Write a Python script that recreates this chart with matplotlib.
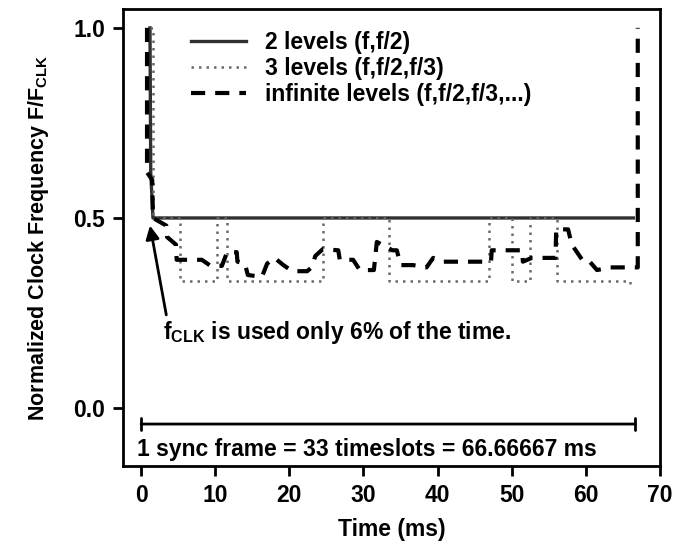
import numpy as np
import matplotlib.pyplot as plt

plt.rcParams['font.family'] = 'Liberation Sans'
plt.rcParams['font.weight'] = 'bold'
plt.rcParams['mathtext.fontset'] = 'custom'
plt.rcParams['mathtext.rm'] = 'Liberation Sans:bold'
plt.rcParams['mathtext.it'] = 'Liberation Sans:bold'
plt.rcParams['mathtext.bf'] = 'Liberation Sans:bold'

#######################################################################
# DATA (time in ms, frequency normalised to F_CLK)
#######################################################################
# 2 levels (f, f/2)
t_two = [1.2, 1.3, 1.6, 66.4]
f_two = [1.0, 0.62, 0.5, 0.5]

# 3 levels (f, f/2, f/3) - change points, held until the next one
t_three = [1.2, 1.6, 5.3, 10.3, 11.6, 24.5, 33.4, 46.9, 50.0, 52.5, 56.1, 66.0]
f_three = [1.0, 0.5, 0.333, 0.5, 0.333, 0.5, 0.333, 0.5, 0.333, 0.5, 0.333, 0.325]

# infinite levels (f, f/2, f/3, ...)
t_inf = [0.8, 0.8, 1.5, 1.6, 3.4, 3.5, 4.7, 4.8, 8.2, 9.3, 10.9, 11.6,
         12.9, 13.0, 14.0, 14.4, 16.3, 17.0, 18.0, 19.2, 20.4, 22.4, 23.0,
         23.5, 24.5, 26.6, 26.8, 28.6, 29.5, 31.4, 31.8, 33.9, 34.5, 35.0,
         36.7, 38.3, 38.5, 39.4, 40.7, 42.8, 44.4, 46.4, 47.2, 47.3, 48.2,
         50.0, 51.4, 51.5, 52.7, 54.8, 55.9, 56.0, 57.6, 58.1, 59.5, 60.3,
         61.5, 63.3, 65.0, 67.0, 67.0]
f_inf = [1.0, 0.62, 0.6, 0.5, 0.48, 0.45, 0.43, 0.39, 0.39, 0.375, 0.374, 0.41,
         0.41, 0.385, 0.38, 0.35, 0.345, 0.38, 0.395, 0.376, 0.36, 0.36, 0.37,
         0.40, 0.418, 0.415, 0.39, 0.39, 0.363, 0.363, 0.437, 0.415, 0.415, 0.376,
         0.376, 0.37, 0.37, 0.395, 0.385, 0.385, 0.385, 0.385, 0.385, 0.415, 0.415,
         0.415, 0.415, 0.385, 0.395, 0.395, 0.395, 0.47, 0.47, 0.43, 0.39, 0.39,
         0.363, 0.37, 0.37, 0.37, 1.0]

labels = ['2 levels (f,f/2)', '3 levels (f,f/2,f/3)', 'infinite levels (f,f/2,f/3,...)']

frame_start = 0.0
frame_end = 66.66667

xticks = [0, 10, 20, 30, 40, 50, 60, 70]
yticks = [0.0, 0.5, 1.0]

FS = 16.5

#######################################################################
# PLOT
#######################################################################
fig = plt.figure(figsize=(6.8, 5.49), dpi=100)
ax = fig.add_axes([0.181, 0.151, 0.7896, 0.832])

ax.plot(t_two, f_two, color='#303030', lw=2.4, label=labels[0])
ax.plot(t_three, f_three, color='#6a6a6a', lw=1.8, ls=(0, (1, 2.0)),
        drawstyle='steps-post', label=labels[1])
ax.plot(t_inf, f_inf, color='black', lw=3.0, ls=(0, (3.4, 2.4)), label=labels[2])

# sync frame bracket
ax.annotate('', xy=(frame_start, -0.042), xytext=(frame_end, -0.042),
            arrowprops=dict(arrowstyle='|-|', lw=2, mutation_scale=4, color='black',
                            shrinkA=0, shrinkB=0))
ax.text(-0.6, -0.108, '1 sync frame = 33 timeslots = 66.66667 ms',
        fontsize=FS, fontweight='bold', va='center', ha='left')

# note on the full clock usage
ax.annotate('', xy=(1.2, 0.48), xytext=(3.4, 0.245),
            arrowprops=dict(arrowstyle='-|>', lw=2, color='black',
                            mutation_scale=20, shrinkA=0, shrinkB=0))
ax.text(2.9, 0.2, r'f$_{\rm CLK}$ is used only 6% of the time.', fontsize=FS,
        fontweight='bold', va='center', ha='left')

ax.set_xlim(-2.43, 70)
ax.set_ylim(-0.1526, 1.0487)
ax.set_xticks(xticks)
ax.set_yticks(yticks)
ax.set_yticklabels(['%.1f' % v for v in yticks])
ax.tick_params(direction='out', length=7, width=2, labelsize=FS, pad=6)
for s in ax.spines.values():
    s.set_linewidth(2)

ax.set_xlabel('Time (ms)', fontsize=FS, fontweight='bold', labelpad=8)
ax.set_ylabel(r'Normalized Clock Frequency F/F$_{\rm CLK}$', fontsize=15.5,
              fontweight='bold', labelpad=16)

ax.legend(loc='upper left', bbox_to_anchor=(0.106, 0.977), frameon=False,
          fontsize=FS, handlelength=2.4, handletextpad=0.8, labelspacing=0.12,
          borderpad=0)

fig.savefig('out.png', dpi=100)
